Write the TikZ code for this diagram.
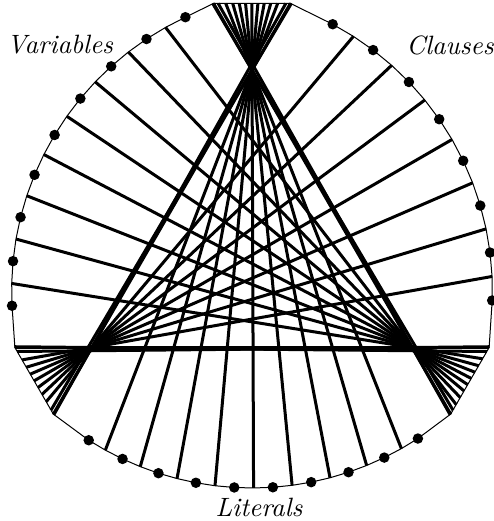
\documentclass[tikz,border=0pt]{standalone}
\usepackage{tikz}
\usetikzlibrary{positioning,calc}

\tikzset{
  ray/.style={line width=1.2pt},
  rim/.style={line width=0.4pt},
  lbl/.style={font=\fontsize{10.6}{12}\selectfont\itshape}
}

\begin{document}
\begin{tikzpicture}[x=0.4pt,y=-0.4pt]
\useasboundingbox (0,0) rectangle (494,521);

% focal triangle
\coordinate (G) at (252,255);
\coordinate (T) at ([shift={(270:185)}]G);
\coordinate (L) at ([shift={(150:185)}]G);
\coordinate (R) at ([shift={(30:185)}]G);
% ends of the three flat pieces of the rim
\coordinate (tl) at ($(T)!-0.24!(R)$);
\coordinate (tr) at ($(T)!-0.24!(L)$);
\coordinate (lt) at ($(L)!-0.24!(R)$);
\coordinate (lb) at ($(L)!-0.24!(T)$);
\coordinate (rt) at ($(R)!-0.24!(L)$);
\coordinate (rb) at ($(R)!-0.24!(T)$);
% centres of the three arcs
\coordinate (cV) at ([shift={(30:70)}]G);
\coordinate (cC) at ([shift={(150:70)}]G);
\coordinate (cL) at ([shift={(270:70)}]G);

% points on the arcs (even = dot, odd = ray)
\foreach \i in {0,...,16}
  \coordinate (v\i) at ([shift={(177+4.25*\i:301)}]cV);
\foreach \i in {0,...,14}
  \coordinate (c\i) at ([shift={(298+4.571*\i:301)}]cC);
\foreach \i in {0,...,18}
  \coordinate (l\i) at ([shift={(56.8+3.656*\i:303)}]cL);

% rim
\draw[rim] (tl) -- (tr) \foreach \i in {0,...,14}{ -- (c\i)} -- (rt) -- (rb)
  \foreach \i in {0,...,18}{ -- (l\i)} -- (lb) -- (lt)
  \foreach \i in {0,...,16}{ -- (v\i)} -- cycle;

% rays through the focal points
\foreach \i in {1,3,...,15}
  \draw[ray] (v\i) -- (intersection of v\i--R and rt--rb);
\foreach \i in {1,3,...,13}
  \draw[ray] (c\i) -- (intersection of c\i--L and lt--lb);
\foreach \i in {1,3,...,17}
  \draw[ray] (l\i) -- (intersection of l\i--T and tl--tr);
% triangle sides
\draw[ray] (tl) -- (rb);
\draw[ray] (tr) -- (lb);
\draw[ray] (lt) -- (rt);
% rays from the flat pieces, next to the corners
\coordinate (a) at ($(lb)!0.06!(lt)$);
\coordinate (b) at ($(rb)!0.06!(rt)$);
\coordinate (d) at ($(tr)!0.06!(tl)$);
\coordinate (e) at ($(rt)!0.06!(rb)$);
\coordinate (g) at ($(tl)!0.06!(tr)$);
\coordinate (h) at ($(lt)!0.06!(lb)$);
\draw[ray] (a) -- (intersection of a--T and tl--tr);
\draw[ray] (b) -- (intersection of b--T and tl--tr);
\draw[ray] (d) -- (intersection of d--L and lt--lb);
\draw[ray] (e) -- (intersection of e--L and lt--lb);
\draw[ray] (g) -- (intersection of g--R and rt--rb);
\draw[ray] (h) -- (intersection of h--R and rt--rb);

% dots
\foreach \i in {0,2,...,16} \fill (v\i) circle (2.1pt);
\foreach \i in {0,2,...,14} \fill (c\i) circle (2.1pt);
\foreach \i in {0,2,...,18} \fill (l\i) circle (2.1pt);

\node[lbl] (var) at (60,45) {Variables};
\node[lbl] (cla) at (450,45) {Clauses};
\node[lbl] (lit) at (259,507) {Literals};
\end{tikzpicture}
\end{document}
